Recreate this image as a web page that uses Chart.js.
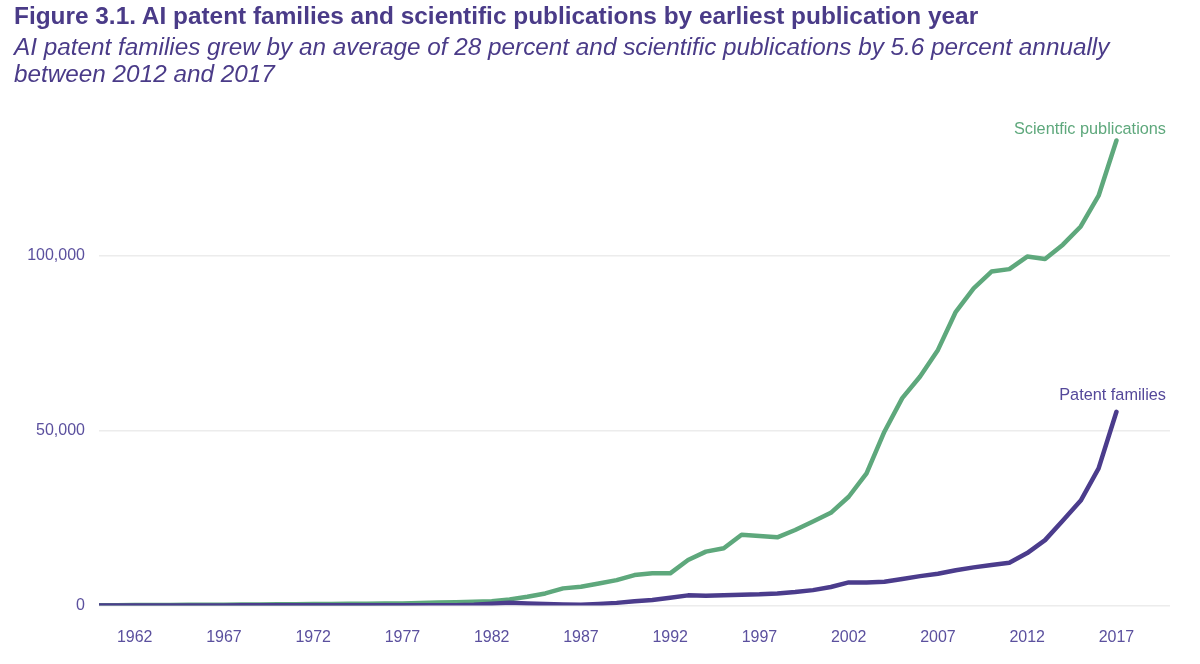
<!DOCTYPE html>
<html>
<head>
<meta charset="utf-8">
<script src="https://cdn.jsdelivr.net/npm/chart.js@4/dist/chart.umd.min.js"></script>
<style>
  html, body { margin: 0; padding: 0; background: #ffffff; }
  #wrap { position: relative; width: 1200px; height: 664px; overflow: hidden; }
  #chart { position: absolute; left: 0; top: 0; }
  .title { position: absolute; left: 14px; top: 2px; font: bold 24.4px "Liberation Sans", Arial, sans-serif; line-height: 28px; color: #4a3b88; white-space: nowrap; }
  .subtitle { position: absolute; left: 14px; top: 34px; font: italic 24.3px "Liberation Sans", Arial, sans-serif; line-height: 26.5px; color: #4a3b88; white-space: nowrap; }
</style>
</head>
<body>
<div id="wrap">
  <canvas id="chart" width="1200" height="664"></canvas>
  <div class="title">Figure 3.1. AI patent families and scientific publications by earliest publication year</div>
  <div class="subtitle">AI patent families grew by an average of 28 percent and scientific publications by 5.6 percent annually<br>between 2012 and 2017</div>
</div>
<script>
// ---- data ----
const years = [1960,1961,1962,1963,1964,1965,1966,1967,1968,1969,
               1970,1971,1972,1973,1974,1975,1976,1977,1978,1979,
               1980,1981,1982,1983,1984,1985,1986,1987,1988,1989,
               1990,1991,1992,1993,1994,1995,1996,1997,1998,1999,
               2000,2001,2002,2003,2004,2005,2006,2007,2008,2009,
               2010,2011,2012,2013,2014,2015,2016,2017];

const scientificPublications = [100,100,120,140,160,180,200,230,260,300,
               330,370,400,430,470,500,550,600,700,850,
               950,1050,1250,1750,2500,3450,4900,5350,6300,7250,
               8700,9200,9200,13000,15400,16350,20250,19850,19500,21600,
               24000,26500,31100,37800,49700,59300,65500,73100,84000,90700,
               95500,96200,99800,99100,103200,108400,117200,133000];

const patentFamilies = [0,0,0,0,0,0,0,0,50,50,
               50,50,50,50,50,50,50,50,50,50,
               100,200,500,800,600,450,300,250,450,750,
               1200,1600,2200,2900,2800,2900,3100,3200,3450,3850,
               4400,5300,6600,6600,6800,7600,8400,9100,10100,10900,
               11600,12200,15000,18700,24300,30000,39200,55400];

const xTickYears = [1962,1967,1972,1977,1982,1987,1992,1997,2002,2007,2012,2017];
const yTickValues = [0,50000,100000];
const seriesNames = ["Patent families","Scientfic publications"];

// ---- styles ----
const GREEN = "#5ea87c";
const PURPLE = "#4b3c8c";
const TICK = "#5b509e";

const toPoints = vals => years.map((y, i) => ({ x: y, y: vals[i] }));

const endLabels = {
  id: "endLabels",
  afterDatasetsDraw(chart) {
    const ctx = chart.ctx;
    const area = chart.chartArea;
    const conf = [
      { color: "#54489a", dy: -12 },
      { color: GREEN, dy: -6 }
    ];
    chart.data.datasets.forEach((ds, i) => {
      const meta = chart.getDatasetMeta(i);
      const pt = meta.data[meta.data.length - 1];
      ctx.save();
      ctx.font = "16.3px 'Liberation Sans', Arial, sans-serif";
      ctx.fillStyle = conf[i].color;
      ctx.textAlign = "right";
      ctx.textBaseline = "alphabetic";
      ctx.fillText(ds.label, area.right - 4, pt.y + conf[i].dy);
      ctx.restore();
    });
  }
};

new Chart(document.getElementById("chart"), {
  type: "line",
  data: {
    datasets: [
      {
        label: seriesNames[0],
        data: toPoints(patentFamilies),
        borderColor: PURPLE,
        backgroundColor: PURPLE,
        borderWidth: 4.5,
        pointRadius: 0,
        tension: 0,
        borderCapStyle: "round",
        borderJoinStyle: "round"
      },
      {
        label: seriesNames[1],
        data: toPoints(scientificPublications),
        borderColor: GREEN,
        backgroundColor: GREEN,
        borderWidth: 4.5,
        pointRadius: 0,
        tension: 0,
        borderCapStyle: "round",
        borderJoinStyle: "round"
      }
    ]
  },
  options: {
    responsive: false,
    animation: false,
    devicePixelRatio: 1,
    layout: { padding: { top: 116, right: 30, left: 0, bottom: 0 } },
    plugins: {
      legend: { display: false },
      tooltip: { enabled: false },
      title: { display: false }
    },
    scales: {
      x: {
        type: "linear",
        min: 1960,
        max: 2020,
        grid: { display: false, drawTicks: false },
        border: { display: false },
        afterBuildTicks: s => { s.ticks = xTickYears.map(v => ({ value: v })); },
        afterFit: s => { s.height = 58.5; },
        ticks: {
          color: TICK,
          font: { family: "'Liberation Sans', Arial, sans-serif", size: 16 },
          padding: 22,
          maxRotation: 0,
          autoSkip: false,
          callback: v => String(v)
        }
      },
      y: {
        min: 0,
        max: 140000,
        grid: { color: "#ececec", lineWidth: 1.5, drawTicks: false },
        border: { display: false },
        afterBuildTicks: s => { s.ticks = yTickValues.map(v => ({ value: v })); },
        afterFit: s => { s.width = 99; },
        ticks: {
          color: TICK,
          font: { family: "'Liberation Sans', Arial, sans-serif", size: 16 },
          padding: 14,
          callback: v => v.toLocaleString("en-US")
        }
      }
    }
  },
  plugins: [endLabels]
});
</script>
</body>
</html>
